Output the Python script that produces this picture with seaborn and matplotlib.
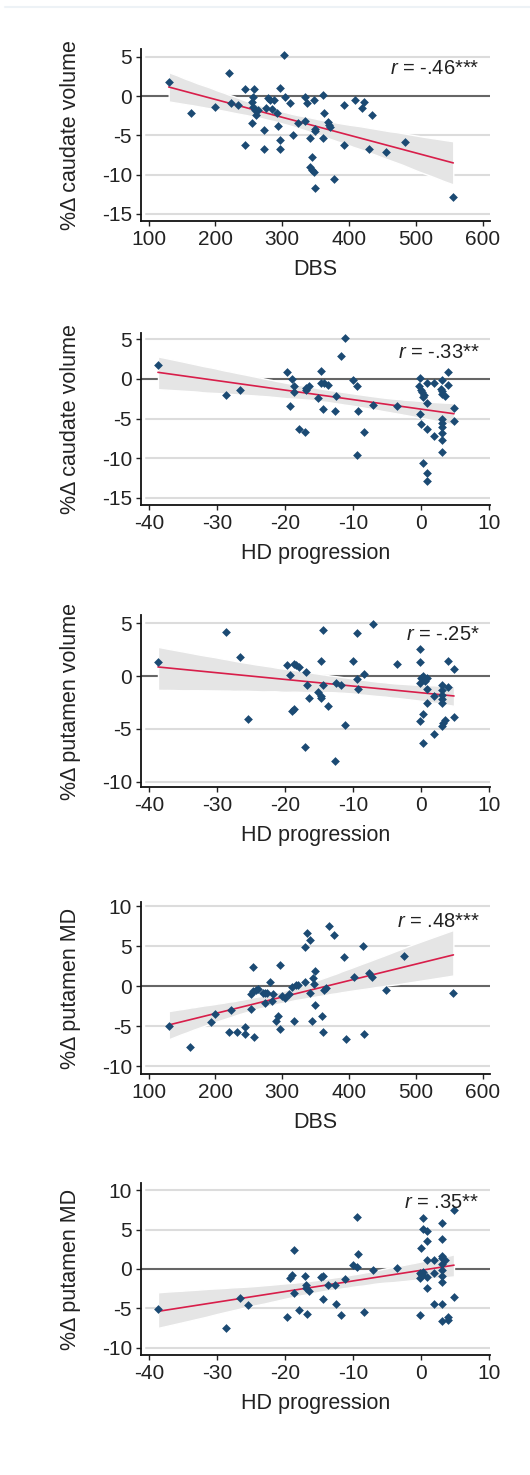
import numpy as np
import pandas as pd
import seaborn as sns
import matplotlib.pyplot as plt
from matplotlib.lines import Line2D

# panel 1: DBS vs %change caudate volume
dbs_caud_x = [130, 163, 199, 220, 223, 233, 244, 244, 254, 254, 256, 258, 256, 259, 261, 263,
              273, 273, 276, 278, 281, 284, 287, 292, 294, 297, 297, 297, 302, 304, 311, 316,
              323, 334.5, 334.5, 337.5, 342, 344.5, 342, 345, 348, 347, 349, 349.5, 349.5,
              360.5, 361, 363, 368.5, 370.5, 371.5, 377.5, 392, 392, 409, 420, 423, 435, 430,
              456, 483, 556]
dbs_caud_y = [1.74, -2.17, -1.36, 2.97, -0.89, -1.1, 0.93, -6.28, -3.4, -0.76, -0.13, 0.93, -1.4,
              -1.83, -2.34, -1.74, -4.25, -6.7, -1.49, -0.3, -0.55, -1.6, -0.55, -2.17, -3.82,
              1.06, -5.65, -6.7, 5.22, -0.13, -0.93, -5.0, -3.44, -0.13, -3.18, -0.93, -5.27,
              -7.69, -9.0, -9.47, -9.6, -0.5, -11.76, -4.2, -4.5, 0.08, -5.27, -2.17, -3.35,
              -3.7, -3.9, -10.6, -1.15, -6.28, -0.5, -1.57, -0.76, -2.38, -6.7, -7.13, -5.86,
              -12.87]

# panel 2: HD progression vs %change caudate volume
hd_caud_x = [-38.7, -28.7, -26.6, -19.7, -18.9, -19.2, -18.7, -18.7, -18.0, -17.0, -16.9, -16.9,
             -16.5, -15.1, -14.7, -14.7, -14.2, -13.7, -14.4, -12.7, -12.5, -11.8, -11.1, -10.0,
             -9.4, -9.2, -9.4, -8.4, -7.0, -3.5, -0.14, -0.24, 0.1, 0.2, 0.5, 0.35, -0.14, 0.1,
             0.85, 0.85, 0.85, 0.35, 0.85, 0.85, 2.0, 2.0, 3.06, 3.0, 3.06, 3.2, 3.55, 3.06,
             3.06, 3.06, 3.06, 3.06, 3.06, 3.95, 3.95, 4.9, 4.9]
hd_caud_y = [1.73, -1.99, -1.35, 0.89, 0.04, -3.47, -0.93, -1.6, -6.26, -6.68, -1.44, -1.14,
             -0.93, -2.41, 1.06, -0.51, -0.51, -0.76, -3.8, -4.0, -2.2, 2.96, 5.2, -0.13, -0.93,
             -4.0, -9.56, -6.68, -3.26, -3.42, 0.13, -0.93, -1.35, -1.69, -1.99, -2.28, -4.44,
             -5.7, -0.51, -3.0, -6.26, -10.57, -11.8, -12.85, -0.51, -7.15, -0.13, -1.23, -1.56,
             -1.86, -2.2, -5.07, -5.58, -6.09, -6.77, -7.7, -9.18, 0.85, -0.8, -3.64, -5.24]

# panel 3: HD progression vs %change putamen volume
hd_put_x = [-38.7, -28.7, -26.6, -25.4, -19.7, -19.2, -18.7, -18.4, -17.95, -19.0, -18.7, -16.9,
            -16.8, -16.5, -17.0, -15.1, -14.7, -14.7, -14.7, -14.4, -14.4, -13.7, -12.7, -12.5,
            -11.8, -11.1, -10.0, -9.4, -9.4, -9.2, -8.4, -7.0, -3.5, -0.14, -0.14, -0.14, 0.1,
            0.35, 0.6, 0.85, 0.85, 0.85, 0.35, -0.14, 0.35, 2.0, 2.0, 3.06, 3.06, 3.06, 3.06,
            3.06, 3.06, 3.3, 3.55, 3.95, 3.95, 4.9, 4.9]
hd_put_y = [1.3, 4.22, 1.78, -4.1, 1.05, 0.1, 1.2, 1.05, 0.89, -3.33, -3.11, 0.41, -0.86, -2.06,
            -6.67, -1.49, -1.84, -2.06, 1.46, 4.38, -0.79, -2.86, -8.06, -0.6, -0.79, -4.67, 1.46,
            4.06, -0.22, -1.17, 0.25, 4.98, 1.17, 2.54, 1.33, -0.63, -0.16, 0.0, -0.48, -0.16,
            -1.17, -2.54, -3.59, -4.22, -6.35, -1.9, -5.43, -0.79, -1.3, -1.8, -2.2, -2.54,
            -4.76, -4.44, -4.13, 1.46, -1.02, 0.7, -3.9]

# panel 4: DBS vs %change putamen MD
dbs_md_x = [130, 162.5, 193.5, 199, 220, 222.5, 232, 243.7, 243.7, 255.5, 253.5, 253.5, 258, 256,
            260, 263, 271.7, 274.7, 277.7, 273.7, 282, 284.5, 286, 291, 293, 296.4, 296.4, 300.3,
            304, 310.6, 314.6, 318, 321, 324, 333.8, 336.7, 341, 334.7, 346, 348.5, 347, 341,
            344, 349, 360, 360.8, 362.8, 366, 370, 378, 391.8, 395.8, 408, 420.4, 422.3, 429.2,
            434.6, 455.8, 482.4, 556.2]
dbs_md_y = [-4.97, -7.58, -4.55, -3.54, -5.77, -2.95, -5.77, -5.14, -6.02, 2.4, -1.05, -2.9, -6.4,
            -0.63, -0.5, -0.42, -0.84, -0.84, -0.84, -2.1, 0.55, -1.9, -1.05, -4.42, -3.79, 2.57,
            -5.35, -1.26, -1.47, -1.05, -0.08, -4.34, 0.08, 0.13, 4.84, 6.65, 5.81, 0.55, 0.97,
            1.89, 0.3, -0.84, -4.38, -2.32, -3.75, -5.77, -0.46, -0.21, 7.45, 6.4, 3.58, -6.57,
            1.14, 4.97, -5.98, 1.6, 1.14, -0.5, 3.79, -0.88]

# panel 5: HD progression vs %change putamen MD
hd_md_x = [-38.7, -28.7, -26.6, -25.4, -19.7, -19.2, -18.9, -18.7, -18.7, -18.0, -17.0, -16.9,
           -16.7, -16.5, -16.9, -14.7, -14.4, -14.4, -13.7, -12.7, -12.5, -11.8, -11.1, -10.0,
           -9.4, -9.4, -9.2, -8.4, -7.0, -3.5, -0.14, -0.14, 0.1, 0.2, 0.35, 0.85, 0.85, -0.14,
           0.1, 0.35, 0.35, 0.85, 0.85, 0.85, 2.0, 2.0, 2.0, 3.06, 3.06, 3.06, 3.2, 3.55, 3.06,
           3.06, 3.06, 3.06, 3.06, 3.06, 3.95, 4.05, 4.9, 4.9]
hd_md_y = [-5.04, -7.5, -3.64, -4.62, -6.06, -1.1, -0.72, 2.37, -3.0, -5.25, -0.93, -2.08, -5.68,
           -2.8, -2.42, -1.02, -0.89, -3.77, -1.99, -1.99, -4.4, -5.85, -1.31, 0.51, 0.25, 6.65,
           1.95, -5.42, -0.08, 0.13, -0.51, -1.1, -0.59, -0.8, -0.38, -1.02, -2.37, -5.85, 2.71,
           6.48, 5.04, 4.83, 3.56, 1.19, 1.19, -0.51, -4.45, 5.85, 3.77, 1.61, 1.44, 1.1, 0.59,
           -0.17, -0.93, -1.65, -4.45, -6.65, -6.1, -6.44, 7.46, -3.6]

panels = [
    (dbs_caud_x, dbs_caud_y, "DBS", "%Δ caudate volume", "-.46***",
     (88.5, 611), [100, 200, 300, 400, 500, 600], (-15.9, 6.0), [5, 0, -5, -10, -15], 49),
    (hd_caud_x, hd_caud_y, "HD progression", "%Δ caudate volume", "-.33**",
     (-41.2, 10.2), [-40, -30, -20, -10, 0, 10], (-15.9, 5.8), [5, 0, -5, -10, -15], 333),
    (hd_put_x, hd_put_y, "HD progression", "%Δ putamen volume", "-.25*",
     (-41.2, 10.2), [-40, -30, -20, -10, 0, 10], (-10.5, 5.8), [5, 0, -5, -10], 615),
    (dbs_md_x, dbs_md_y, "DBS", "%Δ putamen MD", ".48***",
     (88.5, 611), [100, 200, 300, 400, 500, 600], (-11.0, 10.5), [10, 5, 0, -5, -10], 902),
    (hd_md_x, hd_md_y, "HD progression", "%Δ putamen MD", ".35**",
     (-41.2, 10.2), [-40, -30, -20, -10, 0, 10], (-10.9, 10.9), [10, 5, 0, -5, -10], 1183),
]

sns.set_style("white")
plt.rcParams['font.family'] = ['Liberation Sans', 'DejaVu Sans']
plt.rcParams['axes.unicode_minus'] = False
plt.rcParams['mathtext.fontset'] = 'custom'
plt.rcParams['mathtext.it'] = 'Liberation Sans:italic'
plt.rcParams['mathtext.rm'] = 'Liberation Sans'

W, H = 530, 1475
fig = plt.figure(figsize=(W / 100, H / 100), dpi=100)

# faint border line at the top of the screenshot
fig.add_artist(Line2D([5 / W, 1], [1 - 6.5 / H, 1 - 6.5 / H], color='#edf2f6', lw=1.5))

for xs, ys, xlab, ylab, rtxt, xlim, xticks, ylim, yticks, top in panels:
    ax_h = 172
    ax = fig.add_axes([141 / W, 1 - (top + ax_h) / H, 349 / W, ax_h / H])
    df = pd.DataFrame({'x': xs, 'y': ys})

    for t in yticks:
        if t != 0:
            ax.axhline(t, xmin=0.015, color='#dcdcdc', lw=1.5, zorder=1)
    ax.axhline(0, color='#666666', lw=1.5, zorder=1.5)

    sns.regplot(x='x', y='y', data=df, ax=ax, ci=95, seed=0, n_boot=1000,
                marker='D', color='#1b4a73',
                scatter_kws={'s': 20, 'linewidths': 0, 'zorder': 4, 'alpha': 1},
                line_kws={'color': '#d81e4a', 'lw': 1.2, 'zorder': 3})
    for coll in ax.collections:
        if coll.__class__.__name__ in ('PolyCollection', 'FillBetweenPolyCollection'):
            coll.set_facecolor('#e5e5e5')
            coll.set_alpha(1)
            coll.set_zorder(2)

    ax.set_xlim(*xlim)
    ax.set_ylim(*ylim)
    ax.set_xticks(xticks)
    ax.set_yticks(yticks)
    ax.set_xlabel(xlab, fontsize=15.5, color='#222222', labelpad=7)
    ax.set_ylabel(ylab, fontsize=15.5, color='#222222', labelpad=15)
    ax.tick_params(axis='both', labelsize=15, colors='#222222', length=3.5, width=1,
                   direction='out', pad=3, left=True, bottom=True)
    sns.despine(ax=ax)
    for s in ('left', 'bottom'):
        ax.spines[s].set_color('#111111')
        ax.spines[s].set_linewidth(1.3)
    ax.text(0.97, 0.94, r'$\it{r}$' + ' = ' + rtxt, transform=ax.transAxes,
            ha='right', va='top', fontsize=14.5, color='#222222', zorder=6)

fig.savefig('out.png', dpi=100)
